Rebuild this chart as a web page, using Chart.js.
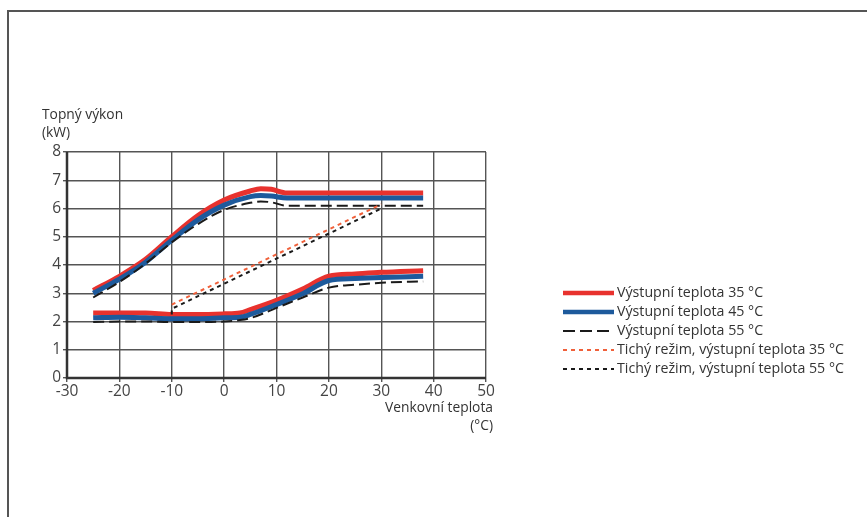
<!DOCTYPE html>
<html>
<head>
<meta charset="utf-8">
<script src="https://cdn.jsdelivr.net/npm/chart.js@4/dist/chart.umd.min.js"></script>
<style>
  html, body { margin: 0; padding: 0; background: #fff; }
  #wrap { position: relative; width: 867px; height: 517px; }
  canvas { display: block; }
</style>
</head>
<body>
<div id="wrap"><canvas id="c" width="867" height="517"></canvas></div>
<script>
// ---- data ----
const xUpper = [-25, -20, -15, -10, -5, 0, 5, 7, 9, 12, 20, 30, 38];
const red35Upper   = [3.1, 3.6, 4.2, 5.0, 5.75, 6.3, 6.62, 6.7, 6.68, 6.55, 6.55, 6.55, 6.55];
const blue45Upper  = [3.0, 3.5, 4.1, 4.88, 5.6, 6.12, 6.42, 6.46, 6.44, 6.37, 6.37, 6.37, 6.37];
const black55Upper = [2.85, 3.4, 4.05, 4.8, 5.45, 5.95, 6.2, 6.25, 6.22, 6.1, 6.1, 6.1, 6.1];

const xLower = [-25, -20, -15, -10, -5, 0, 3, 5, 10, 15, 20, 25, 30, 38];
const red35Lower   = [2.3, 2.3, 2.3, 2.25, 2.25, 2.27, 2.3, 2.42, 2.75, 3.15, 3.6, 3.68, 3.74, 3.8];
const blue45Lower  = [2.13, 2.15, 2.13, 2.1, 2.1, 2.13, 2.15, 2.25, 2.6, 2.98, 3.45, 3.52, 3.56, 3.6];
const black55Lower = [1.98, 2.0, 2.0, 1.98, 1.98, 2.0, 2.05, 2.12, 2.48, 2.85, 3.2, 3.3, 3.37, 3.42];

const xQuietRed = [-10, 30];
const quietRed35 = [2.6, 6.15];
const xQuietBlack = [-10, -10, 30];
const quietBlack55 = [2.25, 2.45, 6.0];

const xTicks = [-30, -20, -10, 0, 10, 20, 30, 40, 50];
const yTicks = [0, 1, 2, 3, 4, 5, 6, 7, 8];

const seriesLabels = [
  'Výstupní teplota 35 °C',
  'Výstupní teplota 45 °C',
  'Výstupní teplota 55 °C',
  'Tichý režim, výstupní teplota 35 °C',
  'Tichý režim, výstupní teplota 55 °C'
];
const yTitle = ['Topný výkon', '(kW)'];
const xTitle = ['Venkovní teplota', '(°C)'];

// ---- styling ----
const RED = '#e8322e';
const BLUE = '#1d5a9c';
const BLACK = '#1a1a1a';
const QRED = '#f0603a';
const FONT = '"Open Sans", "DejaVu Sans", sans-serif';

const pts = (xs, ys) => xs.map((x, i) => ({ x: x, y: ys[i] }));

const styles = [
  { color: RED, width: 5, dash: [] },
  { color: BLUE, width: 5, dash: [] },
  { color: BLACK, width: 2, dash: [11, 5] },
  { color: QRED, width: 2, dash: [4, 4] },
  { color: BLACK, width: 2, dash: [4, 4] }
];

function ds(idx, data, order, part) {
  const s = styles[idx];
  return {
    label: seriesLabels[idx],
    legendIdx: part === 0 ? idx : -1,
    data: data,
    borderColor: s.color,
    backgroundColor: s.color,
    borderWidth: s.width,
    borderDash: s.dash,
    pointRadius: 0,
    fill: false,
    cubicInterpolationMode: 'monotone',
    order: order
  };
}

const datasets = [
  ds(0, pts(xUpper, red35Upper), 9, 0),
  ds(0, pts(xLower, red35Lower), 9, 1),
  ds(1, pts(xUpper, blue45Upper), 8, 0),
  ds(1, pts(xLower, blue45Lower), 8, 1),
  ds(2, pts(xUpper, black55Upper), 7, 0),
  ds(2, pts(xLower, black55Lower), 7, 1),
  Object.assign(ds(3, pts(xQuietRed, quietRed35), 6, 0), { cubicInterpolationMode: 'default', tension: 0 }),
  Object.assign(ds(4, pts(xQuietBlack, quietBlack55), 5, 0), { cubicInterpolationMode: 'default', tension: 0 })
];

const decor = {
  id: 'decor',
  beforeDraw(chart) {
    const ctx = chart.ctx;
    ctx.save();
    ctx.fillStyle = '#fff';
    ctx.fillRect(0, 0, chart.width, chart.height);
    // outer frame (top and left only)
    ctx.strokeStyle = '#555';
    ctx.lineWidth = 2;
    ctx.beginPath();
    ctx.moveTo(8, 517);
    ctx.lineTo(8, 11);
    ctx.lineTo(867, 11);
    ctx.stroke();
    ctx.restore();
  },
  afterDraw(chart) {
    const ctx = chart.ctx;
    const area = chart.chartArea;
    ctx.save();
    // thicker axis lines
    ctx.strokeStyle = '#333';
    ctx.lineWidth = 2.5;
    ctx.beginPath();
    ctx.moveTo(area.left, area.top);
    ctx.lineTo(area.left, area.bottom);
    ctx.lineTo(area.right, area.bottom);
    ctx.stroke();
    // axis titles
    ctx.fillStyle = '#333';
    ctx.font = '13.8px ' + FONT;
    ctx.textBaseline = 'middle';
    ctx.textAlign = 'left';
    ctx.fillText(yTitle[0], 42, 115);
    ctx.fillText(yTitle[1], 42, 133);
    ctx.textAlign = 'right';
    ctx.fillText(xTitle[0], 493, 408);
    ctx.fillText(xTitle[1], 493, 426);
    // legend
    const rowsY = [293, 312, 331, 350, 369];
    ctx.font = '14.2px ' + FONT;
    ctx.textAlign = 'left';
    chart.data.datasets.forEach(d => {
      if (d.legendIdx < 0) return;
      const i = d.legendIdx;
      const y = rowsY[i];
      ctx.strokeStyle = d.borderColor;
      ctx.lineWidth = i < 2 ? 4.5 : 2;
      ctx.setLineDash(i === 2 ? [12, 5] : (i > 2 ? [4, 4] : []));
      ctx.beginPath();
      ctx.moveTo(563, y);
      ctx.lineTo(614, y);
      ctx.stroke();
      ctx.setLineDash([]);
      ctx.fillStyle = '#333';
      ctx.fillText(d.label, 617, y);
    });
    ctx.restore();
  }
};

new Chart(document.getElementById('c'), {
  type: 'line',
  data: { datasets: datasets },
  options: {
    responsive: false,
    animation: false,
    events: [],
    layout: { padding: { left: 0, right: 381, top: 152, bottom: 0 } },
    plugins: { legend: { display: false }, tooltip: { enabled: false } },
    scales: {
      x: {
        type: 'linear',
        min: -30, max: 50,
        afterBuildTicks: s => { s.ticks = xTicks.map(v => ({ value: v })); },
        afterFit: s => { s.height = 139; },
        grid: { color: '#555', lineWidth: 1.4, tickLength: 4, drawTicks: true },
        border: { display: false },
        ticks: { color: '#444', font: { family: FONT, size: 15.5 }, padding: 0, maxRotation: 0 }
      },
      y: {
        min: 0, max: 8,
        afterBuildTicks: s => { s.ticks = yTicks.map(v => ({ value: v })); },
        afterFit: s => { s.width = 67; },
        grid: { color: '#555', lineWidth: 1.4, tickLength: 4, drawTicks: true },
        border: { display: false },
        ticks: { color: '#444', font: { family: FONT, size: 15.5 }, padding: 2 }
      }
    }
  },
  plugins: [decor]
});
</script>
</body>
</html>
